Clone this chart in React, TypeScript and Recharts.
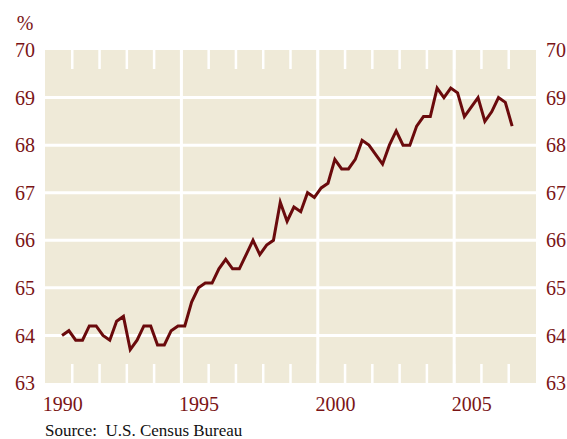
import { LineChart, Line, XAxis, YAxis, CartesianGrid, ReferenceLine } from 'recharts'

// US homeownership rate, quarterly (%)
const years = [1990, 1991, 1992, 1993, 1994, 1995, 1996, 1997, 1998, 1999, 2000, 2001, 2002, 2003, 2004, 2005, 2006, 2007]
const q1 = [null, 63.9, 64.0, 63.7, 63.8, 64.2, 65.1, 65.4, 65.9, 66.7, 67.1, 67.5, 67.8, 68.0, 68.6, 69.1, 68.5, 68.4]
const q2 = [null, 63.9, 63.9, 63.9, 63.8, 64.7, 65.4, 65.7, 66.0, 66.6, 67.2, 67.7, 67.6, 68.0, 69.2, 68.6, 68.7, null]
const q3 = [64.0, 64.2, 64.3, 64.2, 64.1, 65.0, 65.6, 66.0, 66.8, 67.0, 67.7, 68.1, 68.0, 68.4, 69.0, 68.8, 69.0, null]
const q4 = [64.1, 64.2, 64.4, 64.2, 64.2, 65.1, 65.4, 65.7, 66.4, 66.9, 67.5, 68.0, 68.3, 68.6, 69.2, 69.0, 68.9, null]

const yTicks = [63, 64, 65, 66, 67, 68, 69, 70]
const gridValues = [64, 65, 66, 67, 68, 69]
const majorYears = [1995, 2000, 2005]
const labelYears = [1990, 1995, 2000, 2005]
const minorYears = [1991, 1992, 1993, 1994, 1995, 1996, 1997, 1998, 1999, 2000, 2001, 2002, 2003, 2004, 2005, 2006, 2007]

const data: { t: number; rate: number }[] = []
years.forEach((yr, i) => {
  ;[q1[i], q2[i], q3[i], q4[i]].forEach((v, q) => {
    if (v != null) data.push({ t: yr + (q + 0.5) / 4, rate: v })
  })
})

const RED = '#7a1416'
const LINE = '#6a0a0c'
const BG = '#efead8'
const FONT = '"Liberation Serif", "Times New Roman", serif'

export default function App() {
  const tickStyle = { fill: RED, fontSize: 20, fontFamily: FONT }
  return (
    <div style={{ position: 'absolute', left: 0, top: 0, width: 567, height: 439, background: '#fff' }}>
      <LineChart width={567} height={439} data={data} margin={{ top: 50, right: 0, bottom: 0, left: 0 }}>
        <CartesianGrid
          fill={BG}
          stroke="#ffffff"
          strokeWidth={3}
          horizontalValues={gridValues}
          verticalValues={majorYears}
        />
        <XAxis
          dataKey="t"
          type="number"
          domain={[1990, 2008]}
          ticks={labelYears.map((y) => y + 0.5)}
          tickFormatter={(v) => String(Math.floor(v))}
          axisLine={false}
          tickLine={false}
          tickSize={0}
          tickMargin={14}
          height={56}
          tick={{ ...tickStyle, dx: 4 }}
          allowDataOverflow
        />
        <YAxis
          domain={[63, 70]}
          ticks={yTicks}
          axisLine={false}
          tickLine={false}
          tickSize={0}
          tickMargin={10}
          width={45}
          tick={tickStyle}
          allowDataOverflow
        />
        <YAxis
          yAxisId="right"
          orientation="right"
          domain={[63, 70]}
          ticks={yTicks}
          axisLine={false}
          tickLine={false}
          tickSize={0}
          tickMargin={10}
          width={31}
          tick={{ ...tickStyle, textAnchor: 'start' }}
          allowDataOverflow
        />
        {minorYears.map((yr) => (
          <ReferenceLine
            key={'b' + yr}
            segment={[{ x: yr, y: 63 }, { x: yr, y: 63.4 }]}
            stroke="#ffffff"
            strokeWidth={2.5}
          />
        ))}
        {minorYears.map((yr) => (
          <ReferenceLine
            key={'t' + yr}
            segment={[{ x: yr, y: 69.6 }, { x: yr, y: 70 }]}
            stroke="#ffffff"
            strokeWidth={2.5}
          />
        ))}
        <Line
          dataKey="rate"
          type="linear"
          stroke={LINE}
          strokeWidth={3}
          dot={false}
          isAnimationActive={false}
        />
      </LineChart>
      <svg width={567} height={439} style={{ position: 'absolute', left: 0, top: 0, pointerEvents: 'none' }}>
        <text x={25} y={30} textAnchor="middle" fill={RED} fontSize={20} fontFamily={FONT}>
          %
        </text>
        <text x={45} y={436} fill="#111" fontSize={17} fontFamily={FONT} style={{ whiteSpace: 'pre' }}>
          {'Source:  U.S. Census Bureau'}
        </text>
      </svg>
    </div>
  )
}
